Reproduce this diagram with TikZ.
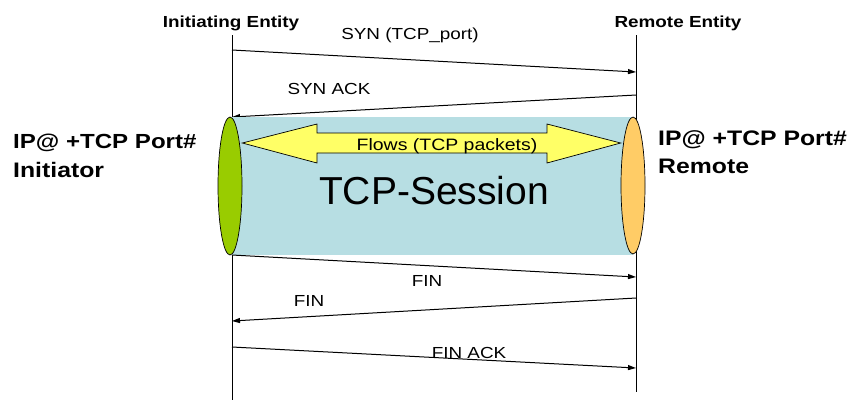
\documentclass[tikz,border=0pt]{standalone}
\usepackage{fontspec}
\setmainfont{Liberation Sans}
\newfontfamily\widefont[FakeStretch=1.18]{Liberation Sans}
\usetikzlibrary{arrows.meta,shapes.geometric}
\definecolor{sessioncyan}{HTML}{B7DEE3}
\definecolor{initgreen}{HTML}{99CC00}
\definecolor{remoteorange}{HTML}{FFCC66}
\definecolor{flowyellow}{HTML}{FFFF66}
\tikzset{
  lifeline/.style={draw=black, line width=1pt},
  msg/.style={draw=black, line width=1pt, -{Triangle[length=8pt,width=5pt]}},
  msglabel/.style={font=\widefont\fontsize{16}{19}\selectfont, anchor=base, inner sep=0pt},
  entity/.style={font=\widefont\bfseries\fontsize{16}{19}\selectfont, anchor=base, inner sep=0pt},
  endpoint/.style={font=\widefont\bfseries\fontsize{21}{28}\selectfont, anchor=base west, inner sep=0pt},
  socket/.style={ellipse, draw=black, line width=0.7pt, minimum width=24pt, inner sep=0pt}
}
\begin{document}
\begin{tikzpicture}[x=1pt, y=-1pt]
\useasboundingbox (0,0) rectangle (850,400);

% lifelines
\coordinate (Ltop) at (232,35);
\coordinate (Lbot) at (232,400);
\coordinate (Rtop) at (636,35);
\coordinate (Rbot) at (636,392);
\draw[lifeline] (Ltop) -- (Lbot);
\draw[lifeline] (Rtop) -- (Rbot);

% entity headers
\node[entity] (initname) at (231,27) {Initiating Entity};
\node[entity] (remname) at (678,27) {Remote Entity};

% message end points
\coordinate (s1) at (232,50);  \coordinate (e1) at (636,72);
\coordinate (s2) at (636,95);  \coordinate (e2) at (232,117);
\coordinate (s3) at (232,255); \coordinate (e3) at (636,277);
\coordinate (s4) at (636,298); \coordinate (e4) at (232,321);
\coordinate (s5) at (232,347); \coordinate (e5) at (636,368);

% handshake
\draw[msg] (s1) -- (e1);
\node[msglabel] (synlbl) at (410,39) {SYN (TCP\_port)};
\draw[msg] (s2) -- (e2);
\node[msglabel] (synacklbl) at (329,94) {SYN ACK};

% session pipe
\fill[sessioncyan] (232,117) rectangle (633,255);
\node[socket, fill=initgreen, minimum height=138pt] (initsock) at (230,186) {};
\node[socket, fill=remoteorange, minimum height=137pt] (remsock) at (633,185.5) {};

% bidirectional flow arrow
\draw[fill=flowyellow, line width=0.7pt]
  (initsock.east |- 0,143) -- (317,124) -- (317,133) -- (547,133) -- (547,124)
  -- (remsock.west |- 0,143) -- (547,163) -- (547,153) -- (317,153) -- (317,163) -- cycle;
\node[font=\widefont\fontsize{16.5}{19}\selectfont, anchor=base, inner sep=0pt] (flowlbl) at (447,150) {Flows (TCP packets)};
\node[font=\fontsize{39}{44}\selectfont, anchor=base, inner sep=0pt] (sesslbl) at (434,204) {TCP-Session};

% endpoint descriptions
\node[endpoint, font=\widefont\bfseries\fontsize{20.4}{28}\selectfont] (initaddr) at (13,148) {IP@ +TCP Port\#};
\node[endpoint] (initrole) at (13,177) {Initiator};
\node[endpoint] (remaddr) at (658,145) {IP@ +TCP Port\#};
\node[endpoint] (remrole) at (658,173) {Remote};

% teardown
\draw[msg] (s3) -- (e3);
\node[msglabel] (fin1lbl) at (427,286) {FIN};
\draw[msg] (s4) -- (e4);
\node[msglabel] (fin2lbl) at (309,306) {FIN};
\draw[msg] (s5) -- (e5);
\node[msglabel] (finacklbl) at (469,358) {FIN ACK};
\end{tikzpicture}
\end{document}
